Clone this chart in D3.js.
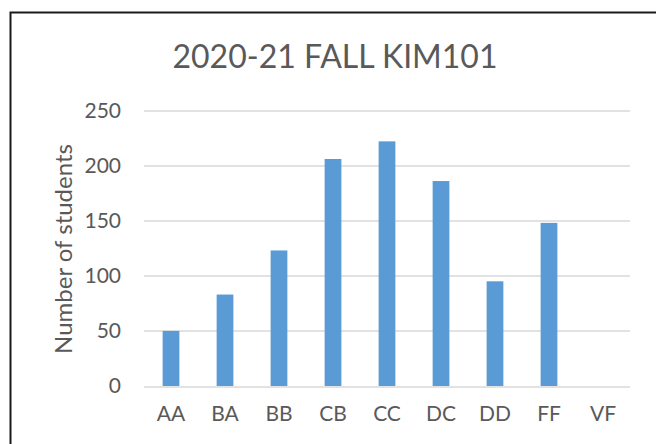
<!DOCTYPE html>
<html>
<head>
<meta charset="utf-8">
<script src="https://cdn.jsdelivr.net/npm/d3@7"></script>
<style>
  body { margin: 0; background: #fff; }
  svg { display: block; font-family: Lato, "Open Sans", sans-serif; }
</style>
</head>
<body>
<div id="chart"></div>
<script>
// Daten
var grades = ["AA", "BA", "BB", "CB", "CC", "DC", "DD", "FF", "VF"];
var students = [50, 83, 123, 206, 222, 186, 95, 148, 0];
var yTicks = [0, 50, 100, 150, 200, 250];

var W = 656, H = 444;
var margin = {top: 110.5, right: 26, bottom: 58, left: 144};
var width = W - margin.left - margin.right,
    height = H - margin.top - margin.bottom;

var svg = d3.select("#chart").append("svg")
    .attr("width", W)
    .attr("height", H);

// Rahmen des Diagrammbereichs
svg.append("rect")
    .attr("x", 10.5).attr("y", 12.5)
    .attr("width", W + 20).attr("height", H + 20)
    .attr("fill", "none")
    .attr("stroke", "#1a1a1a")
    .attr("stroke-width", 2);

var g = svg.append("g")
    .attr("transform", "translate(" + margin.left + "," + margin.top + ")");

var x = d3.scaleBand()
    .domain(grades)
    .range([0, width])
    .paddingInner(0.69)
    .paddingOuter(0.345);

var y = d3.scaleLinear()
    .domain([0, 250])
    .range([height, 0]);

// Gitterlinien
g.selectAll(".grid")
    .data(yTicks)
    .enter()
    .append("line")
    .attr("x1", 0).attr("x2", width)
    .attr("y1", function(d) { return Math.round(y(d)) + 0.5; })
    .attr("y2", function(d) { return Math.round(y(d)) + 0.5; })
    .attr("stroke", "#d9d9d9")
    .attr("stroke-width", 1.5);

// Balken
g.selectAll(".bar")
    .data(students)
    .enter()
    .append("rect")
    .attr("x", function(d, i) { return x(grades[i]); })
    .attr("y", function(d) { return y(d); })
    .attr("width", x.bandwidth())
    .attr("height", function(d) { return height - y(d); })
    .attr("fill", "#5b9bd5");

// Y-Achse
var yAxis = g.append("g")
    .call(d3.axisLeft(y).tickValues(yTicks).tickSize(0).tickPadding(23));
yAxis.select(".domain").remove();
yAxis.selectAll("text")
    .attr("font-size", "21px")
    .attr("font-family", "Lato, sans-serif")
    .attr("fill", "#595959");

// X-Achse
var xAxis = g.append("g")
    .attr("transform", "translate(0," + height + ")")
    .call(d3.axisBottom(x).tickSize(0).tickPadding(20));
xAxis.select(".domain").remove();
xAxis.selectAll("text")
    .attr("font-size", "21px")
    .attr("font-family", "Lato, sans-serif")
    .attr("fill", "#595959");

// Titel
svg.append("text")
    .attr("x", 335)
    .attr("y", 68)
    .attr("text-anchor", "middle")
    .attr("font-size", "32px")
    .attr("fill", "#595959")
    .text("2020-21 FALL KIM101");

// Achsentitel
svg.append("text")
    .attr("transform", "translate(72,249) rotate(-90)")
    .attr("text-anchor", "middle")
    .attr("font-size", "24px")
    .attr("fill", "#595959")
    .text("Number of students");
</script>
</body>
</html>
